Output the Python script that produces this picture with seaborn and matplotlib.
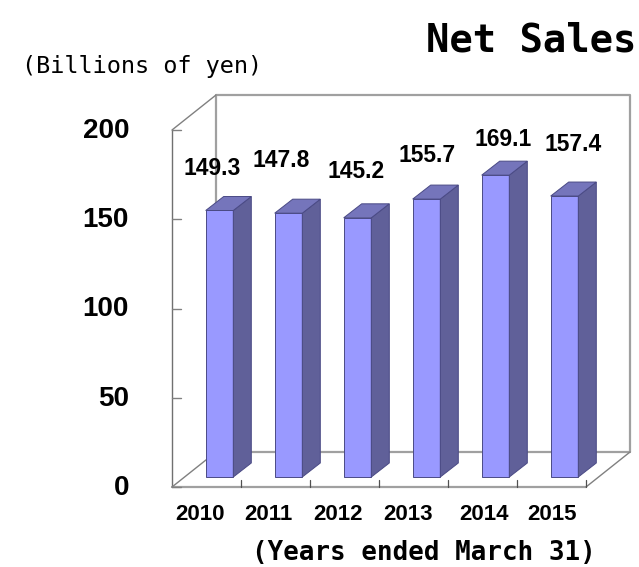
import matplotlib
matplotlib.use("Agg")
import matplotlib.pyplot as plt
from matplotlib.patches import Polygon
from matplotlib.transforms import Affine2D, IdentityTransform
import seaborn as sns

years = ["2010", "2011", "2012", "2013", "2014", "2015"]
net_sales = [149.3, 147.8, 145.2, 155.7, 169.1, 157.4]
sales_labels = ["149.3", "147.8", "145.2", "155.7", "169.1", "157.4"]
y_ticks = [0, 50, 100, 150, 200]

# pixel nudges from the top of each bar, the labels are not regular in the original
label_dx = [-7, -7, -1, 1, 8, 9]
label_dy = [42, 53, 46, 44, 36, 52]
year_dx = [-7, -7, -6, -5, 1, 1]

W, H = 639, 567
DIGITS = ["Liberation Sans", "DejaVu Sans"]
MONO = ["DejaVu Sans Mono"]
FRONT, SIDE, TOP = "#9999ff", "#606099", "#7575bb"
EDGE = "#4a4a85"
WALL = "#a0a0a0"

sns.set_style("white")
fig = plt.figure(figsize=(W / 100, H / 100), dpi=100)
# front plane of the fake 3D box
ax = fig.add_axes([172 / W, 1 - 487 / H, 414 / W, 357 / H])

sns.barplot(x=years, y=net_sales, width=0.4, color=FRONT, saturation=1,
            edgecolor=EDGE, linewidth=0.7, ax=ax, zorder=4)
ax.set_xlim(-0.5, 5.5)
ax.set_ylim(0, 200)
ax.axis("off")

# depth of box and bars, in pixels
back = Affine2D().translate(44, 35)
bar_shift = Affine2D().translate(13, 10)
d = (18, 14)

back_tr = ax.transAxes + back
ax.plot([0, 0, 1, 1], [0, 1, 1, 0], transform=back_tr, color=WALL, lw=1.6, clip_on=False, zorder=1)
ax.plot([0, 1], [0, 0], transform=back_tr, color=WALL, lw=1.6, clip_on=False, zorder=1)
ax.plot([0, 0], [0, 1], transform=ax.transAxes, color="#707070", lw=1, clip_on=False, zorder=2)
ax.plot([0, 1], [0, 0], transform=ax.transAxes, color=WALL, lw=1.6, clip_on=False, zorder=2)

# slanted edges between the front plane and the back wall
for cx, cy in [(0, 0), (0, 1), (1, 0)]:
    p0 = ax.transAxes.transform((cx, cy))
    p1 = back_tr.transform((cx, cy))
    ax.plot([p0[0], p1[0]], [p0[1], p1[1]], transform=IdentityTransform(),
            color="#808080", lw=1, clip_on=False, zorder=2)

# short ticks
for v in y_ticks:
    p = ax.transData.transform((-0.5, v))
    ax.plot([p[0], p[0] + 9], [p[1], p[1]], transform=IdentityTransform(),
            color="#808080", lw=1, clip_on=False, zorder=2)
for i in range(len(years)):
    p = ax.transData.transform((i + 0.5, 0))
    ax.plot([p[0], p[0]], [p[1], p[1] + 7], transform=IdentityTransform(),
            color="#505050", lw=0.9, clip_on=False, zorder=2)

# side and top faces of the bars
bar_tr = ax.transData + bar_shift
bars = list(ax.patches[:len(years)])
tops = []
for bar in bars:
    bar.set_transform(bar_tr)
    bar.set_clip_on(False)
    x0, y0 = bar_tr.transform((bar.get_x(), 0))
    x1, y1 = bar_tr.transform((bar.get_x() + bar.get_width(), bar.get_height()))
    tops.append(((x0 + x1) / 2, y1))
    side = [(x1, y0), (x1 + d[0], y0 + d[1]), (x1 + d[0], y1 + d[1]), (x1, y1)]
    top = [(x0, y1), (x1, y1), (x1 + d[0], y1 + d[1]), (x0 + d[0], y1 + d[1])]
    for verts, col in [(side, SIDE), (top, TOP)]:
        ax.add_patch(Polygon(verts, closed=True, facecolor=col, edgecolor=EDGE, lw=0.7,
                             transform=IdentityTransform(), clip_on=False, zorder=4))

# value labels
for i, (x, y) in enumerate(tops):
    fig.text((x + label_dx[i]) / W, (y + label_dy[i]) / H, sales_labels[i], ha="center", va="center",
             family=DIGITS, fontweight="bold", fontsize=16.5, color="black")

# axis labels
for v in y_ticks:
    _, y = ax.transData.transform((0, v))
    fig.text(129 / W, (y - 1) / H, str(v), ha="right", va="center",
             family=DIGITS, fontweight="bold", fontsize=20, color="black")
for i, year in enumerate(years):
    x, _ = ax.transData.transform((i, 0))
    fig.text((x + year_dx[i]) / W, 1 - 515 / H, year, ha="center", va="center",
             family=DIGITS, fontweight="bold", fontsize=16, color="black")

fig.text(636 / W, 1 - 40 / H, "Net Sales", ha="right", va="center",
         family=MONO, fontweight="bold", fontsize=28, color="black")
fig.text(22 / W, 1 - 67 / H, "(Billions of yen)", ha="left", va="center",
         family=MONO, fontsize=16.9, color="black")
fig.text(252 / W, 1 - 553 / H, "(Years ended March 31)", ha="left", va="center",
         family=MONO, fontweight="bold", fontsize=18.6, color="black")

fig.savefig("out.png", dpi=100, facecolor="white")
